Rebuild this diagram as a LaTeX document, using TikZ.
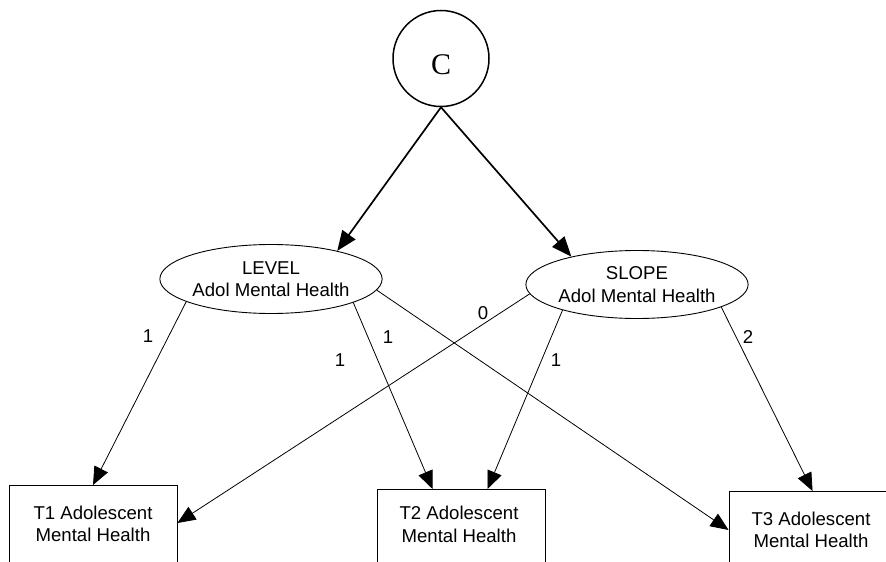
\documentclass[tikz,border=0pt]{standalone}
\usepackage{fontspec}
\setmainfont{Liberation Sans}
\newfontfamily\serifC{Liberation Serif}
\usetikzlibrary{arrows.meta,shapes.geometric}
\begin{document}
\begin{tikzpicture}[x=1pt,y=-1pt,
  every node/.style={font=\fontsize{18.6}{22.5}\selectfont},
  latent/.style={draw,line width=0.9pt,ellipse,minimum width=192pt,minimum height=69pt,inner sep=0pt,align=center},
  causec/.style={draw,line width=1.5pt,circle,minimum size=96pt,inner sep=0pt,font=\serifC\fontsize{30}{30}\selectfont,text height=32pt,text depth=0pt},
  obsbox/.style={draw,line width=0.9pt,rectangle,minimum width=168pt,minimum height=120pt,anchor=north,inner sep=0pt},
  obstext/.style={align=center,inner sep=0pt},
  path/.style={line width=0.8pt,-{Triangle[length=18pt,width=15pt]}},
  thickpath/.style={line width=1.7pt,-{Triangle[length=20pt,width=16pt]}},
  coef/.style={inner sep=0pt}
]
\clip (0,0) rectangle (886,562);
\fill[white] (0,0) rectangle (886,562);

\node[causec] (C) at (441,58.5) {C};
\node[latent] (level) at (271,279) {LEVEL\\Adol Mental Health};
\node[latent,minimum height=68pt] (slope) at (637,284.5) {SLOPE\\Adol Mental Health};

\node[obsbox] (t1) at (93,485) {};
\node[obsbox] (t2) at (461,489) {};
\node[obsbox] (t3) at (813,491) {};
\node[obstext] (t1t) at (93,524) {T1 Adolescent\\Mental Health};
\node[obstext] (t2t) at (459,524.5) {T2 Adolescent\\Mental Health};
\node[obstext] (t3t) at (811,530) {T3 Adolescent\\Mental Health};

\draw[thickpath] (C.south) -- (level.23);
\draw[thickpath] (C.south) -- (slope.157);

\draw[path] (level.195) -- (t1.north);
\draw[path] (level.344) -- ([xshift=56pt]t2.north west);
\draw[path] (level.354) -- ([yshift=-39pt]t3.north west);
\draw[path] (slope.185) -- ([yshift=-38pt]t1.north east);
\draw[path] (slope.199) -- ([xshift=111pt]t2.north west);
\draw[path] (slope.345) -- ([xshift=84pt]t3.north west);

\node[coef] (c1) at (148,336) {1};
\node[coef] (c2) at (388,337) {1};
\node[coef] (c3) at (340,360) {1};
\node[coef] (c4) at (483,313) {0};
\node[coef] (c5) at (556,360) {1};
\node[coef] (c6) at (748,337) {2};
\end{tikzpicture}
\end{document}
